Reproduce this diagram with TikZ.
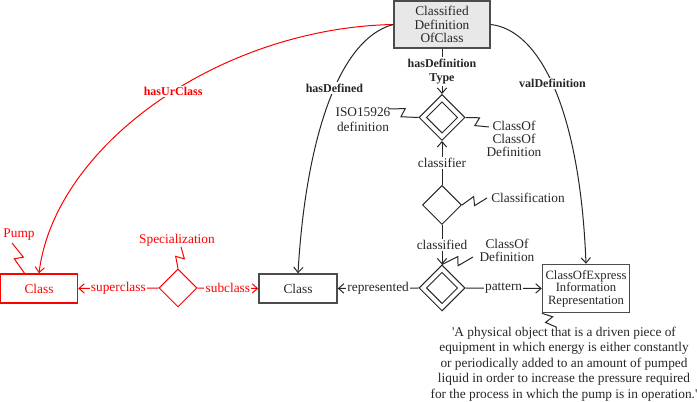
\documentclass[tikz,border=0pt]{standalone}
\usepackage{fontspec}
\setmainfont{Liberation Serif}
\usetikzlibrary{arrows.meta,shapes.geometric,calc}
\begin{document}
\begin{tikzpicture}[x=0.75pt,y=-0.75pt,
  txt/.style={text=black!85, inner sep=1pt, align=center, font=\fontsize{10}{10}\selectfont},
  box/.style={draw=black!70, line width=1.1pt, inner sep=0pt, align=center, text=black!85},
  rbox/.style={draw=red, line width=1.1pt, inner sep=0pt, align=center, text=red, font=\fontsize{10}{10}\selectfont},
  dia/.style={draw=black!85, line width=0.75pt, shape=diamond, shape aspect=1, inner sep=0pt},
  rdia/.style={draw=red, line width=0.75pt, shape=diamond, shape aspect=1, inner sep=0pt},
  conn/.style={line width=0.75pt, draw=black!85},
  rconn/.style={line width=0.75pt, draw=red},
  arr/.style={-{Straight Barb[length=4pt,width=7pt]}},
  lab/.style={fill=white, text=black!85, inner sep=1pt, font=\fontsize{10}{10}\selectfont},
  rlab/.style={fill=white, text=red, inner sep=1pt, font=\fontsize{10}{10}\selectfont},
  blab/.style={fill=white, text=black!85, inner sep=1pt, align=center, font=\bfseries\fontsize{9}{11}\selectfont},
  rblab/.style={fill=white, text=red, inner sep=1pt, align=center, font=\bfseries\fontsize{9}{11}\selectfont},
  zig/.style={to path={-- ($(\tikztostart)!0.52!(\tikztotarget)!3.75pt!90:(\tikztotarget)$) -- ($(\tikztostart)!0.46!(\tikztotarget)!3pt!-90:(\tikztotarget)$) -- (\tikztotarget)}}
]
\useasboundingbox (0,0) rectangle (697,402);

% boxes
\node[box, fill=black!9, minimum width=72pt, minimum height=35.5pt, font=\fontsize{10}{10.1}\selectfont] (cdc) at (442,24.5) {Classified\\Definition\\OfClass};
\node[box, minimum width=58.5pt, minimum height=21.75pt, font=\fontsize{10}{10}\selectfont] (cls) at (298,288.5) {Class};
\node[rbox, minimum width=57.75pt, minimum height=21.75pt] (rcls) at (39,288.5) {Class};
\node[box, minimum width=65.25pt, minimum height=36pt, font=\fontsize{9.5}{9.4}\selectfont] (coe) at (586,288.5) {ClassOfExpress\\Information\\Representation};

% diamonds
\node[dia, minimum size=34.5pt] (d1) at (442,117.5) {};
\node[dia, minimum size=23.5pt] (d1i) at (442,117.5) {};
\node[dia, minimum size=29.25pt] (d2) at (442,205) {};
\node[dia, minimum size=34.5pt] (d3) at (442,288) {};
\node[dia, minimum size=23.5pt] (d3i) at (442,288) {};
\node[rdia, minimum size=28.5pt] (rd) at (178,288) {};

% free labels
\node[txt, font=\fontsize{10}{11.25}\selectfont] (iso) at (363,120) {ISO15926\\definition};
\node[txt, font=\fontsize{10}{9.9}\selectfont] (cocd) at (514,139) {ClassOf\\ClassOf\\Definition};
\node[txt] (clf) at (528,198) {Classification};
\node[txt, font=\fontsize{10}{9.9}\selectfont] (cod) at (507,250.5) {ClassOf\\Definition};
\node[txt, text=red] (spec) at (177,240) {Specialization};
\node[txt, text=red] (pump) at (19,235) {Pump};
\node[txt, font=\fontsize{10}{11.6}\selectfont] (desc) at (564,364) {\textquotesingle A physical object that is a driven piece of\\equipment in which energy is either constantly\\or periodically added to an amount of pumped\\liquid in order to increase the pressure required\\for the process in which the pump is in operation.\textquotesingle};

% zigzag end points
\coordinate (zisoS) at (388,109);
\coordinate (zcocdE) at (489,127);
\coordinate (zclfE) at (487,198);
\coordinate (zcodS) at (473,257);
\coordinate (zspecS) at (181,247);
\coordinate (zpumpS) at (12,243);
\coordinate (zpumpE) at (25,274);
\coordinate (zdescE) at (556,327);

\draw[conn] (zisoS) to[zig] (d1.west);
\draw[conn] (d1.east) to[zig] (zcocdE);
\draw[conn] (d2.east) to[zig] (zclfE);
\draw[conn] (zcodS) to[zig] (d3.north);
\draw[rconn] (zspecS) to[zig] (rd.north);
\draw[rconn] (zpumpS) to[zig] (zpumpE);
\draw[conn] (coe.south west) to[zig] (zdescE);

% straight connectors
\draw[conn,arr] (cdc.south) -- node[blab]{hasDefinition\\Type} (d1.north);
\draw[conn,arr] (d2.north) -- node[lab]{classifier} (d1.south);
\draw[conn,arr] (d2.south) -- node[lab]{classified} (d3.north);
\draw[conn,arr] (d3.west) -- node[lab]{represented} (cls.east);
\draw[conn,arr] (d3.east) -- node[lab]{pattern} (coe.west);
\draw[rconn,arr] (rd.west) -- node[rlab]{superclass} (rcls.east);
\draw[rconn,arr] (rd.east) -- node[rlab]{subclass} (cls.west);

% curved connectors
\draw[rconn,arr] (cdc.west) .. controls (220,28) and (55,145) .. node[pos=0.46, rblab]{hasUrClass} (rcls.north);
\draw[conn,arr] (cdc.west) .. controls (335,40) and (305,150) .. node[pos=0.42, blab]{hasDefined} (cls.north);
\draw[conn,arr] (cdc.east) .. controls (540,30) and (580,110) .. node[pos=0.48, blab]{valDefinition} (coe.north);
\end{tikzpicture}
\end{document}
